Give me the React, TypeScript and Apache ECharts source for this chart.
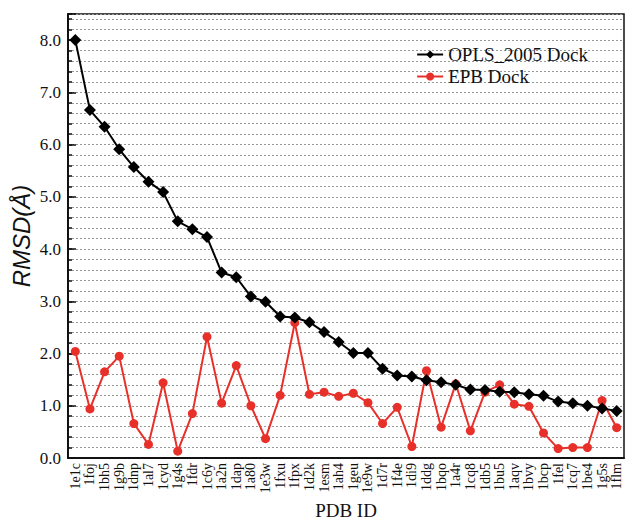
import React, { useEffect, useRef } from "react";
import * as echarts from "echarts";

const categories = [
  "1e1c", "1foj", "1bh5", "1g9b", "1dnp", "1al7", "1cyd", "1g4s", "1fdr", "1c6y",
  "1a2n", "1dap", "1a80", "1e3w", "1fxu", "1fpx", "1d2k", "1esm", "1ah4", "1geu",
  "1e9w", "1d7r", "1f4e", "1di9", "1ddg", "1bqo", "1a4r", "1cq8", "1db5", "1bu5",
  "1aqv", "1bvy", "1bcp", "1fel", "1cq7", "1be4", "1g5s", "1flm",
];

const oplsDock = [
  8.0, 6.66, 6.34, 5.91, 5.57, 5.29, 5.09, 4.53, 4.38, 4.23,
  3.55, 3.46, 3.09, 2.99, 2.71, 2.69, 2.6, 2.41, 2.22, 2.01,
  2.01, 1.71, 1.58, 1.56, 1.49, 1.45, 1.4, 1.31, 1.3, 1.27,
  1.26, 1.22, 1.19, 1.08, 1.05, 1.0, 0.95, 0.9,
];

const epbDock = [
  2.04, 0.94, 1.65, 1.95, 0.66, 0.26, 1.44, 0.13, 0.85, 2.32,
  1.05, 1.77, 1.0, 0.37, 1.2, 2.59, 1.22, 1.26, 1.18, 1.24,
  1.06, 0.66, 0.97, 0.22, 1.67, 0.59, 1.42, 0.52, 1.26, 1.4,
  1.03, 0.99, 0.48, 0.18, 0.2, 0.2, 1.1, 0.58,
];

const SERIF = "'Liberation Serif', 'DejaVu Serif', serif";
const SANS = "'Liberation Sans', Arial, sans-serif";

export default function App() {
  const ref = useRef<HTMLDivElement>(null);
  useEffect(() => {
    if (!ref.current) return;
    const chart = echarts.init(ref.current, undefined, { renderer: "svg" });
    chart.setOption({
      animation: false,
      backgroundColor: "#fff",
      grid: {
        left: 68,
        top: 14,
        right: 1,
        bottom: 65,
        containLabel: false,
        outerBoundsMode: "none",
        show: true,
        borderColor: "#111",
        borderWidth: 1.5,
        backgroundColor: "transparent",
      },
      legend: {
        orient: "vertical",
        right: 32,
        top: 40,
        itemWidth: 26,
        itemHeight: 10,
        itemGap: 3,
        textStyle: { fontFamily: SERIF, fontSize: 19, color: "#111" },
        data: ["OPLS_2005 Dock", "EPB Dock"],
      },
      xAxis: {
        type: "category",
        data: categories,
        boundaryGap: true,
        name: "PDB ID",
        nameLocation: "middle",
        nameGap: 40,
        nameTextStyle: { fontFamily: SERIF, fontSize: 19, color: "#111" },
        axisLine: { lineStyle: { color: "#111", width: 2 } },
        axisTick: { inside: true, alignWithLabel: true, length: 6, lineStyle: { color: "#111", width: 1.5 } },
        axisLabel: {
          rotate: 90,
          interval: 0,
          fontFamily: SERIF,
          fontSize: 14,
          color: "#111",
          margin: 5,
        },
        splitLine: { show: false },
      },
      yAxis: [
        {
          type: "value",
          min: 0,
          max: 8.5,
          interval: 0.2,
          name: "RMSD(Å)",
          nameLocation: "middle",
          nameGap: 35,
          nameMoveOverlap: false,
          nameTextStyle: { fontFamily: SANS, fontSize: 24, fontStyle: "italic", color: "#111" },
          axisLine: { show: true, lineStyle: { color: "#111", width: 2 } },
          axisTick: { show: true, inside: true, length: 4, lineStyle: { color: "#111", width: 1.5 } },
          axisLabel: {
            fontFamily: SERIF,
            fontSize: 17,
            color: "#111",
            margin: 7,
            formatter: (v: number) =>
              Math.abs(v - Math.round(v)) < 1e-6 ? Math.round(v).toFixed(1) : "",
          },
          splitLine: { show: true, lineStyle: { color: "#999", type: [2, 2], width: 1 } },
        },
        {
          type: "value",
          min: 0,
          max: 8.5,
          interval: 1,
          position: "left",
          axisLine: { show: false },
          axisTick: { show: true, inside: true, length: 8, lineStyle: { color: "#111", width: 1.5 } },
          axisLabel: { show: false },
          splitLine: { show: false },
        },
      ],
      series: [
        {
          name: "OPLS_2005 Dock",
          type: "line",
          data: oplsDock,
          symbol: "diamond",
          symbolSize: 12,
          itemStyle: { color: "#000" },
          lineStyle: { color: "#000", width: 2 },
          z: 3,
        },
        {
          name: "EPB Dock",
          type: "line",
          data: epbDock,
          symbol: "circle",
          symbolSize: 9,
          itemStyle: { color: "#e8302a" },
          lineStyle: { color: "#e8302a", width: 2 },
          z: 2,
        },
      ],
    });
    return () => chart.dispose();
  }, []);
  return (
    <div
      ref={ref}
      style={{ position: "fixed", left: 0, top: 0, width: 625, height: 523 }}
    />
  );
}
